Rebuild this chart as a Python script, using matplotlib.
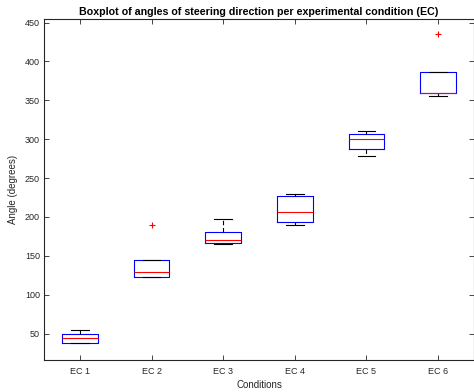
import matplotlib
matplotlib.use("Agg")
import matplotlib.pyplot as plt

plt.rcParams['font.family'] = ['Liberation Sans', 'DejaVu Sans']

# Summary statistics of steering angle (degrees) per experimental condition
conditions = ["EC 1", "EC 2", "EC 3", "EC 4", "EC 5", "EC 6"]
whisker_low = [38, 123, 165, 190, 279, 356]
q1 = [38, 123, 167, 194, 287, 359]
medians = [44, 129, 170, 207, 300, 360]
q3 = [49, 145, 180, 227, 307, 386]
whisker_high = [55, 145, 197, 229, 310, 386]
outliers = [[], [190], [], [], [], [435]]

stats = []
for i, name in enumerate(conditions):
    stats.append(dict(label=name, whislo=whisker_low[i], q1=q1[i], med=medians[i],
                      q3=q3[i], whishi=whisker_high[i], fliers=outliers[i]))

fig = plt.figure(figsize=(4.74, 3.92), dpi=100)
ax = fig.add_axes([44/474, 1-360/392, 430/474, (360-18.7)/392])

ax.bxp(stats, positions=range(1, len(conditions)+1), widths=0.5,
       boxprops=dict(color=(0, 0, 1), linewidth=0.8),
       medianprops=dict(color=(1, 0, 0), linewidth=0.8),
       whiskerprops=dict(color='black', linewidth=0.8, linestyle=(0, (4, 2.5))),
       capprops=dict(color='black', linewidth=0.8),
       flierprops=dict(marker='+', markeredgecolor=(1, 0, 0), markersize=4.5,
                       markeredgewidth=0.8, linestyle='none'),
       capwidths=0.25)

ax.set_xlim(0.5, 6.5)
ax.set_ylim(16, 455)
ax.set_yticks(range(50, 451, 50))
ax.set_xticks(range(1, 7))
ax.set_xticklabels(conditions)

axis_gray = '#262626'
for s in ax.spines.values():
    s.set_color(axis_gray)
    s.set_linewidth(0.8)
ax.tick_params(direction='in', length=3.5, width=0.6, colors=axis_gray,
               labelsize=6.5, top=True, right=True, pad=3)
ax.tick_params(axis='x', pad=5)

ax.set_title("Boxplot of angles of steering direction per experimental condition (EC)",
             fontsize=7.7, fontweight='bold', pad=3)
ax.set_xlabel("Conditions", fontsize=7, color=axis_gray, labelpad=3)
ax.set_ylabel("Angle (degrees)", fontsize=7, color=axis_gray, labelpad=5)

fig.savefig("out.png", dpi=100)
